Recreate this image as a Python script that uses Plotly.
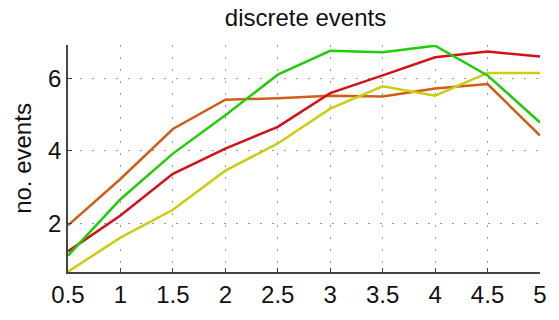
import plotly.graph_objects as go

x = [0.5, 1, 1.5, 2, 2.5, 3, 3.5, 4, 4.5, 5]
orange = [1.94, 3.22, 4.6, 5.41, 5.45, 5.52, 5.5, 5.72, 5.84, 4.42]
green = [1.1, 2.66, 3.92, 4.98, 6.1, 6.76, 6.72, 6.9, 6.08, 4.78]
red = [1.22, 2.21, 3.36, 4.06, 4.66, 5.59, 6.08, 6.58, 6.74, 6.6]
yellow = [0.66, 1.6, 2.37, 3.45, 4.2, 5.16, 5.78, 5.52, 6.15, 6.15]
xlabels = ["0.5", "1", "1.5", "2", "2.5", "3", "3.5", "4", "4.5", "5"]
ytickvals = [2, 4, 6]

series = [
    ("orange", orange, "#cf5f18"),
    ("yellow", yellow, "#cccc12"),
    ("red", red, "#d4111a"),
    ("green", green, "#22cc0a"),
]

fig = go.Figure()
for name, ys, col in series:
    fig.add_trace(go.Scatter(x=x, y=ys, mode="lines", name=name,
                             line=dict(color=col, width=2.5)))

font = "Liberation Sans, Arial, Helvetica, sans-serif"
fig.update_layout(
    width=559, height=320,
    margin=dict(l=68, r=16, t=45, b=43),
    paper_bgcolor="white", plot_bgcolor="white",
    showlegend=False,
    title=dict(text="discrete events", x=0.5465, xanchor="center",
               y=1 - 18 / 320, yanchor="middle",
               font=dict(family=font, size=24, color="#111")),
    font=dict(family=font, size=24, color="#111"),
)
fig.update_xaxes(
    range=[0.5, 5], tickvals=x, ticktext=xlabels,
    showline=True, linecolor="#444", linewidth=1.5,
    ticks="inside", ticklen=4, tickcolor="#444",
    showgrid=True, gridcolor="#999", griddash="2px,10px", gridwidth=1,
    zeroline=False, tickfont=dict(size=24),
)
fig.update_yaxes(
    range=[0.65, 6.92], tickvals=ytickvals,
    showline=True, linecolor="#444", linewidth=1.5,
    ticks="inside", ticklen=4, tickcolor="#444",
    showgrid=True, gridcolor="#999", griddash="2px,10px", gridwidth=1,
    zeroline=False, tickfont=dict(size=24),
    title=dict(text="no. events", font=dict(size=24), standoff=10),
)
fig.write_html("out.html", config={"displayModeBar": False},
               post_script="document.body.style.margin='0';")
